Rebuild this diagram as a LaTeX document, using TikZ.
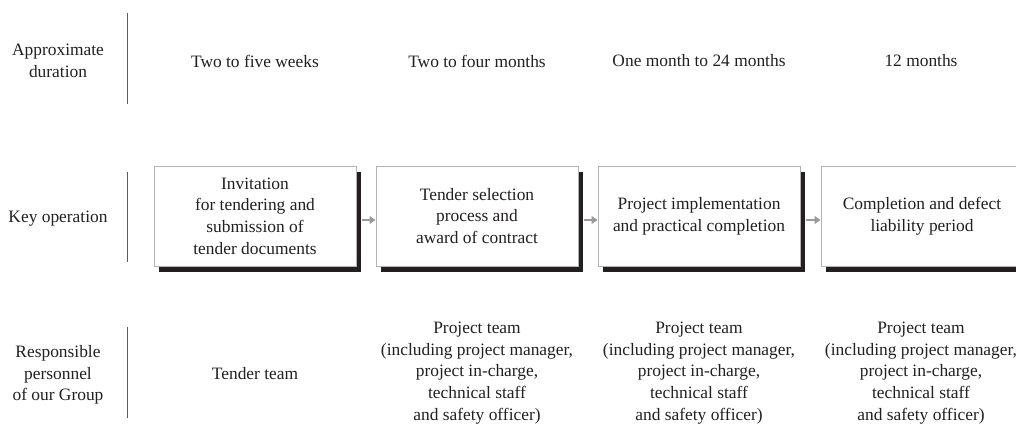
\documentclass[tikz,border=0pt]{standalone}
\usepackage{fontspec}
\setmainfont{Liberation Serif}
\usetikzlibrary{shadows,arrows.meta}
\definecolor{ink}{HTML}{231F20}
\definecolor{boxline}{HTML}{B4B4B4}
\definecolor{arrowc}{HTML}{9A9A9A}
\definecolor{sepline}{HTML}{5A5A5A}
\tikzset{
  lbl/.style={align=center, text=ink, font=\fontsize{17.4}{21.7}\selectfont, inner sep=0pt},
  opbox/.style={draw=boxline, line width=1pt, fill=white, minimum width=202pt, minimum height=100pt,
    align=center, text=ink, font=\fontsize{17.4}{21.7}\selectfont,
    drop shadow={shadow xshift=5pt, shadow yshift=-6pt, opacity=1, fill=ink}},
  flow/.style={draw=arrowc, line width=1.2pt, -{Triangle[length=6pt,width=8pt]}, arrowc},
  sep/.style={draw=sepline, line width=1pt}
}
\begin{document}
\begin{tikzpicture}[x=1pt,y=-1pt]
\useasboundingbox (0,0) rectangle (1016,423);
% separators
\draw[sep] (127,13) -- (127,104);
\draw[sep] (127,172) -- (127,262);
\draw[sep] (127,327) -- (127,418);
% row labels
\node[lbl] (l1) at (58,61) {Approximate\\duration};
\node[lbl] (l2) at (58,219) {Key operation};
\node[lbl] (l3) at (58,375) {Responsible\\personnel\\of our Group};
% durations
\node[lbl] (d1) at (255,61) {Two to five weeks};
\node[lbl] (d2) at (477,61) {Two to four months};
\node[lbl] (d3) at (699,61) {One month to 24 months};
\node[lbl] (d4) at (921,61) {12 months};
% boxes
\node[opbox] (b1) at (255,216) {Invitation\\for tendering and\\submission of\\tender documents};
\node[opbox] (b2) at (477,216) {Tender selection\\process and\\award of contract};
\node[opbox] (b3) at (699,216) {Project implementation\\and practical completion};
\node[opbox] (b4) at (922,216) {Completion and defect\\liability period};
% arrows
\draw[flow] ([xshift=5pt,yshift=-4pt]b1.east) -- ([yshift=-4pt]b2.west);
\draw[flow] ([xshift=5pt,yshift=-4pt]b2.east) -- ([yshift=-4pt]b3.west);
\draw[flow] ([xshift=5pt,yshift=-4pt]b3.east) -- ([yshift=-4pt]b4.west);
% personnel
\node[lbl] (p1) at (255,374) {Tender team};
\node[lbl] (p2) at (477,373) {Project team\\(including project manager,\\project in-charge,\\technical staff\\and safety officer)};
\node[lbl] (p3) at (699,373) {Project team\\(including project manager,\\project in-charge,\\technical staff\\and safety officer)};
\node[lbl] (p4) at (921,373) {Project team\\(including project manager,\\project in-charge,\\technical staff\\and safety officer)};
\end{tikzpicture}
\end{document}
